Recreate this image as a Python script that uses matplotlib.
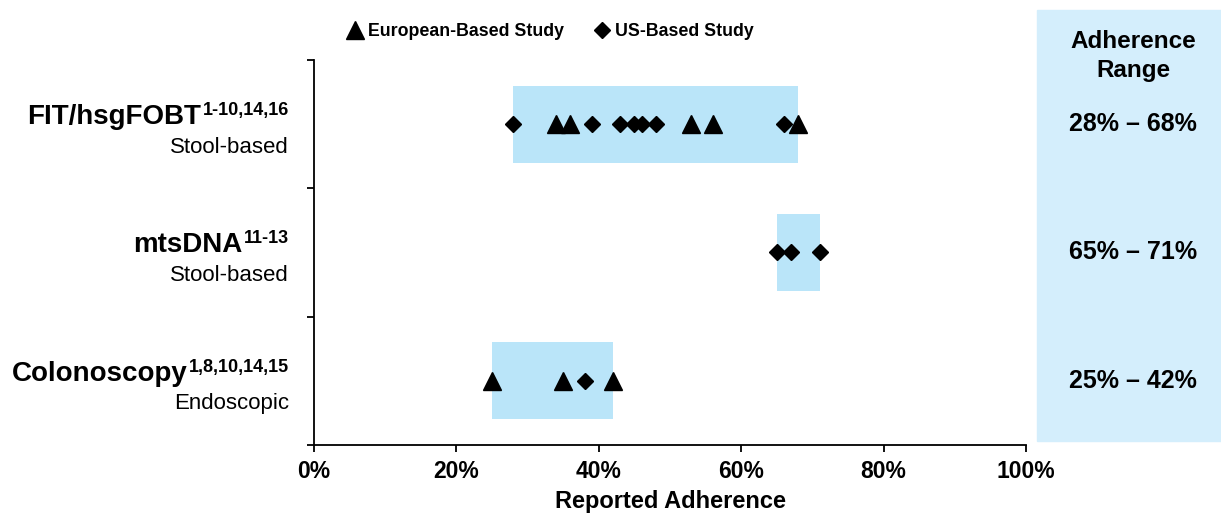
import matplotlib
matplotlib.use("Agg")
import matplotlib.pyplot as plt
import matplotlib.transforms as mtransforms
from matplotlib.lines import Line2D
from matplotlib.patches import Rectangle

plt.rcParams["font.family"] = ["Liberation Sans", "DejaVu Sans"]

# screening tests, top to bottom
tests = ["FIT/hsgFOBT", "mtsDNA", "Colonoscopy"]
refs = ["1-10,14,16", "11-13", "1,8,10,14,15"]
kinds = ["Stool-based", "Stool-based", "Endoscopic"]

# reported adherence (%) per study
europe = [
    [34, 36, 53, 56, 68],
    [],
    [25, 35, 42],
]
us = [
    [28, 39, 43, 45, 46, 48, 66],
    [65, 67, 71],
    [38],
]

xticks = [0, 20, 40, 60, 80, 100]

box_color = "#bae5f9"
panel_color = "#d4eefc"

fig = plt.figure(figsize=(12.21, 5.19), dpi=100)
ax = fig.add_axes([0.2572, 0.1426, 0.5831, 0.7418])
ax.set_xlim(0, 100)
ax.set_ylim(0, 3)

# x in figure fraction, y in data units (for the range column)
col_trans = mtransforms.blended_transform_factory(fig.transFigure, ax.transData)

ypos = [2.5, 1.5, 0.5]
for i, y in enumerate(ypos):
    vals = europe[i] + us[i]
    lo, hi = min(vals), max(vals)
    ax.barh(y, hi - lo, left=lo, height=0.6, color=box_color, zorder=1)
    ax.plot(us[i], [y] * len(us[i]), "D", color="black", markersize=8.6,
            linestyle="none", zorder=3)
    ax.plot(europe[i], [y] * len(europe[i]), "^", color="black",
            markersize=13, linestyle="none", zorder=3)
    fig.text(0.928, y, f"{lo}% \u2013 {hi}%", ha="center", va="center",
             fontsize=18, fontweight="bold", transform=col_trans)

ax.set_xticks(xticks)
ax.set_xticklabels([f"{t}%" for t in xticks], fontsize=16.5, fontweight="bold")
ax.set_yticks([0, 1, 2, 3])
ax.set_yticklabels([])
ax.tick_params(axis="x", direction="out", length=5, width=1.3, pad=6)
ax.tick_params(axis="y", direction="out", length=5, width=1.3)
ax.spines["top"].set_visible(False)
ax.spines["right"].set_visible(False)
for s in ("left", "bottom"):
    ax.spines[s].set_linewidth(1.3)
ax.set_xlabel("Reported Adherence", fontsize=17, fontweight="bold", labelpad=5)

# category labels with superscript references
fig.canvas.draw()
renderer = fig.canvas.get_renderer()
ytrans = ax.get_yaxis_transform()
xr = -25 / ax.bbox.width
for y, name, ref, kind in zip(ypos, tests, refs, kinds):
    sup = ax.text(xr, y, ref, ha="right", va="baseline", fontsize=13,
                  fontweight="bold",
                  transform=mtransforms.offset_copy(ytrans, fig=fig, y=6.5,
                                                    units="points"))
    w = sup.get_window_extent(renderer).width * 72 / fig.dpi
    ax.text(xr, y, name, ha="right", va="baseline", fontsize=20,
            fontweight="bold",
            transform=mtransforms.offset_copy(ytrans, fig=fig, x=-w - 1,
                                              units="points"))
    ax.text(xr, y, kind, ha="right", va="center", fontsize=16,
            transform=mtransforms.offset_copy(ytrans, fig=fig, y=-16.5,
                                              units="points"))

# right-hand summary panel
fig.patches.append(Rectangle((1037 / 1221, 1 - 441 / 519), 184 / 1221,
                             431 / 519, transform=fig.transFigure,
                             color=panel_color, zorder=0))
fig.text(0.928, 1 - 41 / 519, "Adherence", ha="center", va="center",
         fontsize=17.5, fontweight="bold")
fig.text(0.928, 1 - 71 / 519, "Range", ha="center", va="center",
         fontsize=17.5, fontweight="bold")

handles = [
    Line2D([], [], marker="^", color="black", linestyle="none", markersize=13),
    Line2D([], [], marker="D", color="black", linestyle="none", markersize=8.6),
]
fig.legend(handles, ["European-Based Study", "US-Based Study"],
           loc="center", bbox_to_anchor=(550 / 1221, 1 - 32 / 519), ncol=2,
           frameon=False, handlelength=1, handletextpad=0.25,
           columnspacing=1.6, prop={"weight": "bold", "size": 12.8})

fig.savefig("out.png", dpi=100)
